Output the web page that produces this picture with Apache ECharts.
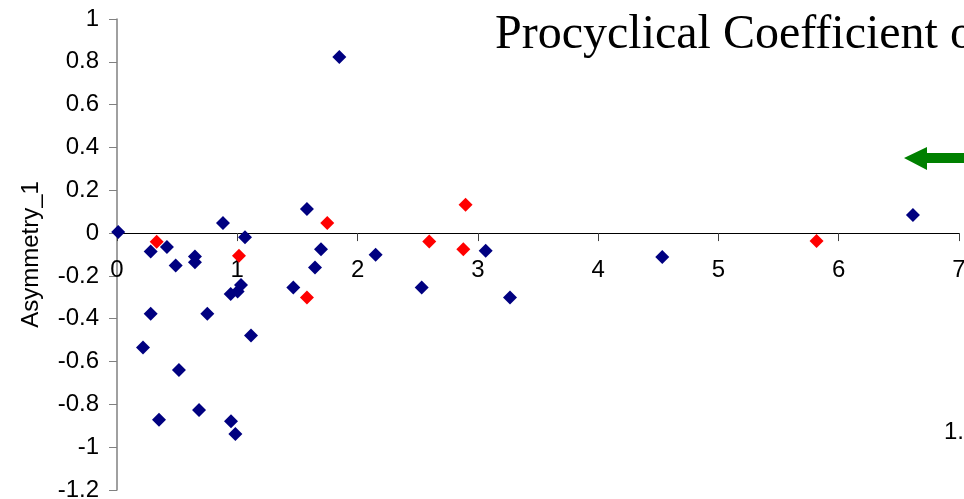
<!DOCTYPE html>
<html lang="en">
<head>
  <meta http-equiv="Content-Type" content="text/html; charset=UTF-8">
  <title>Asymmetry</title>
  <script type="text/javascript" src="https://cdn.jsdelivr.net/npm/echarts@6/dist/echarts.min.js"></script>
  <style>
    html, body { margin: 0; padding: 0; background: #fff; }
  </style>
</head>
<body>
<div id="main" style="width: 964px;height:499px;"></div>
<script type="text/javascript">
  // navy series
  var blueX = [0.01, 0.28, 0.415, 0.488, 0.648, 0.648, 0.881, 1.064, 0.945, 1.003, 1.031,
    0.28, 0.751, 1.114, 0.216, 0.515, 0.682, 0.349, 0.948, 0.984, 1.466, 1.646, 1.696,
    1.579, 1.848, 2.150, 2.533, 3.065, 3.267, 4.533, 6.617];
  var blueY = [0.005, -0.086, -0.065, -0.151, -0.109, -0.136, 0.047, -0.02, -0.284, -0.273, -0.242,
    -0.377, -0.377, -0.478, -0.534, -0.639, -0.826, -0.872, -0.879, -0.938, -0.254, -0.161, -0.075,
    0.112, 0.822, -0.101, -0.254, -0.083, -0.301, -0.112, 0.085];
  // red series
  var redX = [0.33, 1.014, 1.579, 1.748, 2.596, 2.879, 2.898, 5.816];
  var redY = [-0.04, -0.106, -0.301, 0.047, -0.039, -0.075, 0.132, -0.037];

  var xTicks = [0, 1, 2, 3, 4, 5, 6, 7];
  var yTicks = [-1.2, -1, -0.8, -0.6, -0.4, -0.2, 0, 0.2, 0.4, 0.6, 0.8, 1];

  function pairs(xs, ys) {
    return xs.map(function (x, i) { return [x, ys[i]]; });
  }

  var gridTop = 19, gridBottom = 9, chartH = 499;
  var plotH = chartH - gridTop - gridBottom;
  // x axis sits on y = 0: shift it up from the bottom edge
  var yMin = yTicks[0], yMax = yTicks[yTicks.length - 1];
  var zeroShift = plotH * (0 - yMin) / (yMax - yMin);

  var myChart = echarts.init(document.getElementById('main'));
  myChart.setOption({
    animation: false,
    backgroundColor: '#fff',
    textStyle: { fontFamily: 'Liberation Sans, Arial, sans-serif' },
    grid: {
      left: 117, right: 5, top: gridTop, bottom: gridBottom,
      outerBoundsMode: 'none'
    },
    xAxis: {
      type: 'value',
      min: xTicks[0],
      max: xTicks[xTicks.length - 1],
      interval: 1,
      offset: -zeroShift,
      splitLine: { show: false },
      axisLine: { onZero: false, lineStyle: { color: '#000', width: 1 } },
      axisTick: { show: true, inside: false, length: 8, lineStyle: { color: '#404040' } },
      axisLabel: {
        show: true, margin: 25, fontSize: 24, color: '#000',
        showMinLabel: true, showMaxLabel: true
      }
    },
    yAxis: {
      type: 'value',
      min: yMin,
      max: yMax,
      interval: 0.2,
      name: 'Asymmetry_1',
      nameLocation: 'middle',
      nameGap: 74,
      nameTextStyle: { fontSize: 24, color: '#000' },
      splitLine: { show: false },
      axisLine: { show: true, onZero: false, lineStyle: { color: '#808080', width: 1.5 } },
      axisTick: { show: true, length: 8, lineStyle: { color: '#808080' } },
      axisLabel: { margin: 18, fontSize: 24, color: '#000', showMinLabel: true, showMaxLabel: true }
    },
    graphic: [
      {
        type: 'text',
        left: 495, top: 11,
        style: {
          text: 'Procyclical Coefficient of',
          fontFamily: 'Liberation Serif, Times New Roman, serif',
          fontSize: 48,
          fill: '#000'
        }
      },
      {
        type: 'polygon',
        shape: {
          points: [[904, 158], [927, 147], [927, 153], [970, 153], [970, 163], [927, 163], [927, 170]]
        },
        style: { fill: '#008000' }
      },
      {
        type: 'text',
        left: 944, top: 420,
        style: { text: '1.', fontSize: 24, fill: '#000', fontFamily: 'Liberation Sans, Arial, sans-serif' }
      }
    ],
    series: [
      {
        name: 'blue',
        type: 'scatter',
        symbol: 'diamond',
        symbolSize: 14,
        itemStyle: { color: '#000080', opacity: 1 },
        data: pairs(blueX, blueY)
      },
      {
        name: 'red',
        type: 'scatter',
        symbol: 'diamond',
        symbolSize: 14,
        itemStyle: { color: '#ff0000', opacity: 1 },
        data: pairs(redX, redY)
      }
    ]
  });
</script>
</body>
</html>
